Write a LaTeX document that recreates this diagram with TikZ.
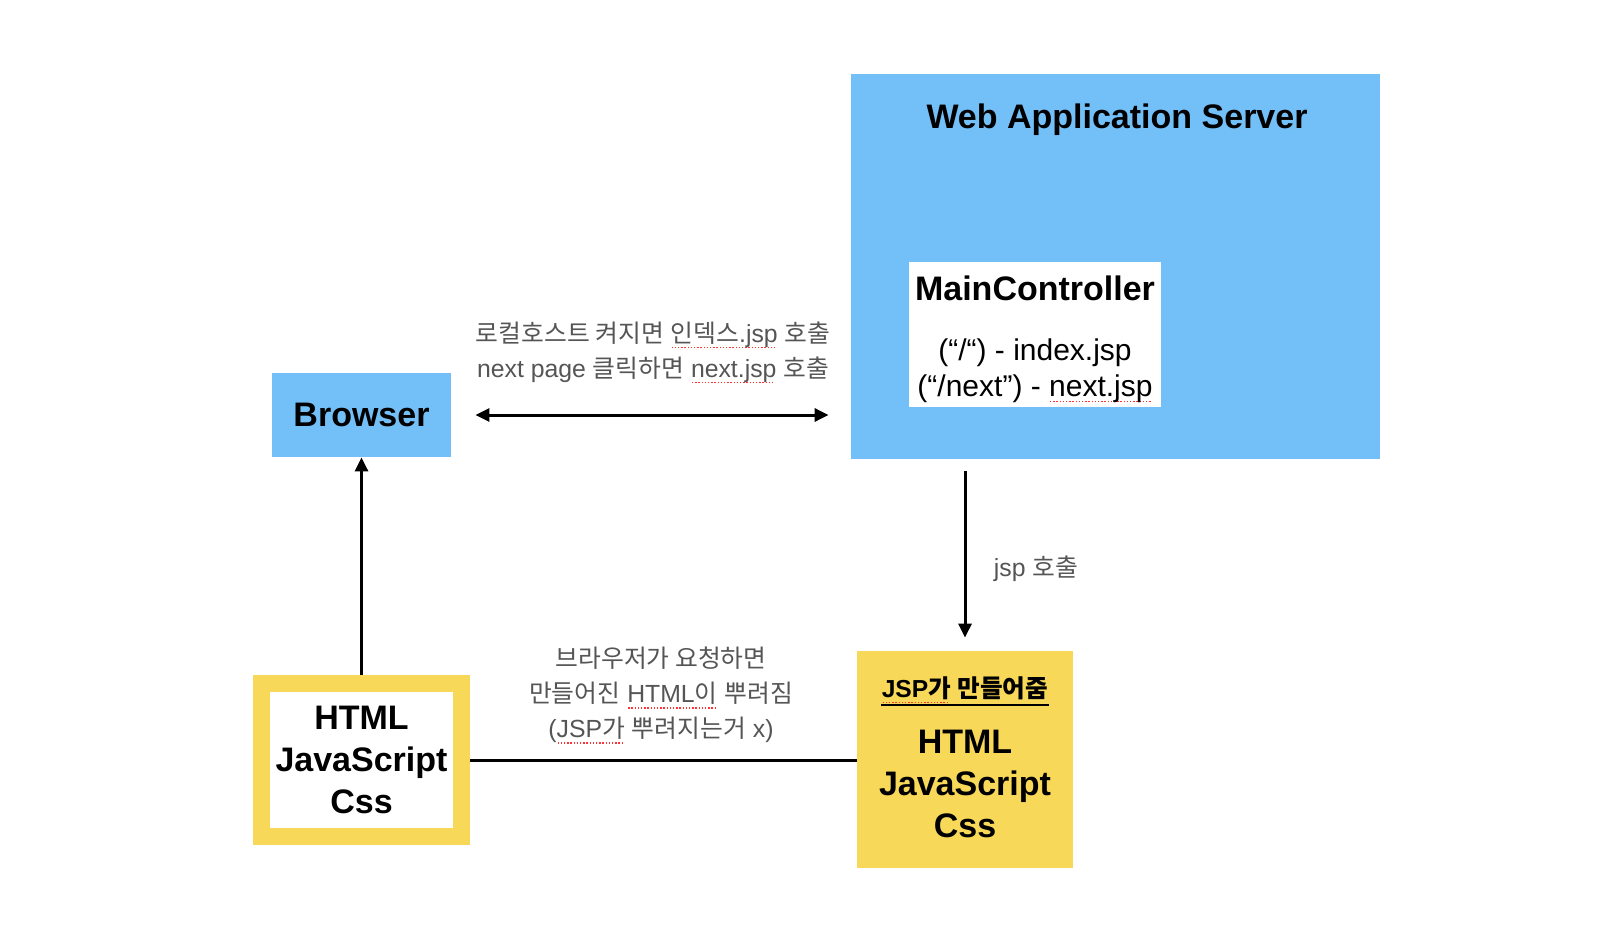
\documentclass[tikz,border=0pt]{standalone}
\usepackage{fontspec}
\setmainfont{Liberation Sans}
\newfontfamily\kr{Noto Sans CJK KR}
\usetikzlibrary{arrows.meta}

\definecolor{wasblue}{HTML}{73BFF8}
\definecolor{jspyellow}{HTML}{F8D858}
\definecolor{notegray}{HTML}{555555}

% red dotted spell-check line under a word
\newcommand\squig[1]{\setbox0\hbox{#1}\rlap{\raisebox{-3pt}{\color{red!80}\hbox to \wd0{\leaders\hbox to 1.6pt{\hss\vrule width .7pt height .7pt\hss}\hfill}}}\box0\relax}

\begin{document}
\begin{tikzpicture}[x=.5pt,y=-.5pt,
  bluebox/.style={fill=wasblue,inner sep=0pt},
  big/.style={font=\fontsize{17}{21}\selectfont\bfseries,align=center,inner sep=0pt},
  route/.style={font=\fontsize{15}{18}\selectfont,align=center,inner sep=0pt},
  note/.style={font=\fontsize{12.4}{17.5}\selectfont,text=notegray,align=center,inner sep=0pt},
  arr/.style={line width=1.5pt,-{Triangle[length=7pt,width=6.5pt]}},
  dblarr/.style={line width=1.5pt,{Triangle[length=7pt,width=6.5pt]}-{Triangle[length=7pt,width=6.5pt]}}]
\useasboundingbox (0,0) rectangle (1620,930);

% server
\node[bluebox,minimum width=264.5pt,minimum height=192.5pt] (was) at (1115.5,266.5) {};
\node[big,anchor=base] (wastitle) at (1117,129) {Web Application Server};
\node[fill=white,minimum width=126pt,minimum height=72.5pt,inner sep=0pt] (mc) at (1035,334.5) {};
\node[big,anchor=base] (mctitle) at (1035,300) {MainController};
\node[route,anchor=base] (idx) at (1035,360) {(“/“) - index.jsp};
\node[route,anchor=base] (nxt) at (1035,396) {(“/next”) - \squig{next.jsp}};

% browser
\node[bluebox,big,minimum width=89.5pt,minimum height=42pt] (browser) at (361.5,415) {Browser};
\draw[dblarr,shorten <=12pt,shorten >=11pt] (browser.east) -- (browser.east -| was.west);
\node[note] (talk) at (653,352.5) {{\kr 로컬호스트 켜지면} \squig{{\kr 인덱스}.jsp} {\kr 호출}\\next page {\kr 클릭하면} \squig{next.jsp} {\kr 호출}};

% jsp result
\node[fill=jspyellow,minimum width=108pt,minimum height=108.5pt,inner sep=0pt] (jsp) at (965,759.5) {};
\node[font=\fontsize{12.3}{15}\selectfont\bfseries,anchor=base,inner sep=0pt] (made) at (965,697) {\squig{JSP{\kr 가}} {\kr 만들어줌}};
\draw[line width=.6pt] ([yshift=-4pt]made.base west) -- ([yshift=-4pt]made.base east);
\node[big] (jsptext) at (965,783.5) {HTML\\JavaScript\\Css};
\draw[arr,shorten <=6pt,shorten >=6.5pt] (was.south -| jsp.north) -- (jsp.north);
\node[note] (call) at (1036,569) {jsp {\kr 호출}};

% html sent to browser
\node[big,fill=white,draw=jspyellow,line width=8.5pt,minimum width=100pt,minimum height=76.5pt] (page) at (361.5,760) {HTML\\JavaScript\\Css};
\draw[arr] (page.north) -- (browser.south);
\draw[line width=1.5pt] (page.east) -- (page.east -| jsp.west);
\node[note] (req) at (661,695.5) {{\kr 브라우저가 요청하면}\\{\kr 만들어진} \squig{HTML{\kr 이}} {\kr 뿌려짐}\\(\squig{JSP{\kr 가}} {\kr 뿌려지는거} x)};
\end{tikzpicture}
\end{document}
